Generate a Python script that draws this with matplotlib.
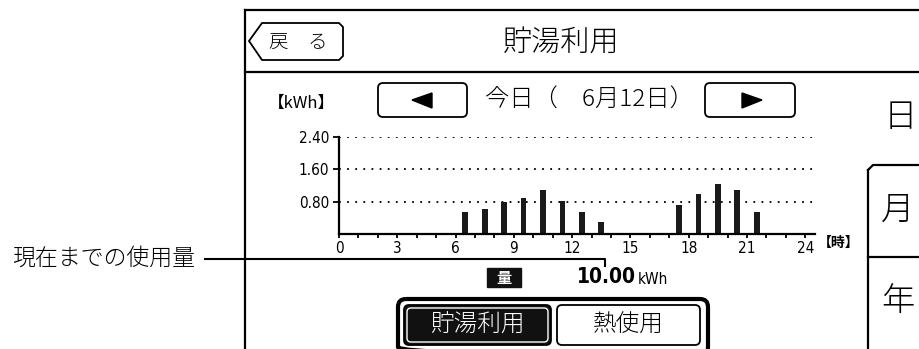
import matplotlib
matplotlib.use('Agg')
import matplotlib.pyplot as plt
from matplotlib.patches import FancyBboxPatch, Polygon, Rectangle

plt.rcParams['font.family'] = ['Noto Sans CJK JP', 'DejaVu Sans']
plt.rcParams['font.weight'] = 'light'

# hourly hot-water usage (kWh), hour = start of the hour
hours = [6, 7, 8, 9, 10, 11, 12, 13, 17, 18, 19, 20, 21]
usage = [0.55, 0.61, 0.78, 0.88, 1.09, 0.82, 0.55, 0.29, 0.72, 0.98, 1.24, 1.09, 0.55]
y_ticks = [0.8, 1.6, 2.4]
y_labels = ['0.80', '1.60', '2.40']
x_ticks = [0, 3, 6, 9, 12, 15, 18, 21, 24]
total = '10.00'

W, H = 920, 349
fig = plt.figure(figsize=(W / 100, H / 100), dpi=100)

# overlay axes in pixel coordinates for the panel decoration
ui = fig.add_axes([0, 0, 1, 1])
ui.set_xlim(0, W)
ui.set_ylim(H, 0)
ui.axis('off')

lw = 1.6
# frame
ui.plot([245, 245], [10, H], color='black', lw=lw)
ui.plot([245, W], [10, 10], color='black', lw=lw)
ui.plot([245, W], [72, 72], color='black', lw=lw)

# back button
ui.add_patch(Polygon([(249, 41), (262, 23), (339, 23), (343, 27), (343, 56), (339, 60), (262, 60)],
                     closed=True, fill=False, ec='black', lw=1.3))
ui.text(298, 42, '戻　る', fontsize=14, ha='center', va='center')

# title
ui.text(561, 42, '貯湯利用', fontsize=21, ha='center', va='center')

# date navigation
ui.add_patch(FancyBboxPatch((378, 83), 89, 34, boxstyle='round,pad=0,rounding_size=5',
                            fill=False, ec='black', lw=1.3))
ui.add_patch(Polygon([(412, 100), (432, 93), (432, 108)], closed=True, color='black'))
ui.add_patch(FancyBboxPatch((705, 83), 90, 34, boxstyle='round,pad=0,rounding_size=5',
                            fill=False, ec='black', lw=1.3))
ui.add_patch(Polygon([(742, 93), (742, 108), (762, 100)], closed=True, color='black'))
ui.text(485, 100, '今日（　6月12日）', fontsize=17.5, ha='left', va='center')
ui.text(301, 103, '【kWh】', fontsize=12, ha='center', va='center', fontweight='normal')

# right side tabs
ui.text(900, 118, '日', fontsize=24, ha='center', va='center')
ui.plot([868, 868], [H, 170], color='black', lw=lw)
ui.plot([868, 873, W], [170, 165, 165], color='black', lw=lw)
ui.plot([868, W], [257, 257], color='black', lw=lw)
ui.text(898, 211, '月', fontsize=24, ha='center', va='center')
ui.text(898, 302, '年', fontsize=24, ha='center', va='center')

# axis unit label
ui.text(818, 243, '【時】', fontsize=10, ha='left', va='center', fontweight='bold')

# leader line and note
ui.text(12, 258, '現在までの使用量', fontsize=16.5, ha='left', va='center')
ui.plot([205, 605, 605], [259, 259, 266], color='black', lw=1.5)

# total
ui.add_patch(Rectangle((487, 268), 34, 19, color='#111111'))
ui.text(504, 277.5, '量', fontsize=11, ha='center', va='center', color='white', fontweight='bold')
ui.text(577, 277, total, fontsize=15, ha='left', va='center', fontweight='bold',
        family='DejaVu Sans', fontstretch='condensed')
ui.text(638, 279, 'kWh', fontsize=11, ha='left', va='center', family='DejaVu Sans',
        fontweight='normal', fontstretch='condensed')

# bottom selector buttons
ui.add_patch(FancyBboxPatch((398, 299), 310, 56, boxstyle='round,pad=0,rounding_size=8',
                            fill=False, ec='black', lw=3))
ui.add_patch(FancyBboxPatch((404, 305), 147, 40, boxstyle='round,pad=0,rounding_size=5',
                            fc='#111111', ec='black', lw=1.3))
ui.add_patch(FancyBboxPatch((407, 308), 141, 34, boxstyle='round,pad=0,rounding_size=4',
                            fill=False, ec='white', lw=1))
ui.text(477, 325, '貯湯利用', fontsize=17, ha='center', va='center', color='white')
ui.add_patch(FancyBboxPatch((557, 305), 143, 40, boxstyle='round,pad=0,rounding_size=5',
                            fc='white', ec='black', lw=1.3))
ui.text(628, 325, '熱使用', fontsize=17, ha='center', va='center')

# chart axes
x0, x1, y0, y1 = 339, 815, 234, 137
ax = fig.add_axes([x0 / W, 1 - y0 / H, (x1 - x0) / W, (y0 - y1) / H])
ax.patch.set_alpha(0)
ax.bar([h + 0.5 for h in hours], usage, width=0.3, color='#1a1a1a')
ax.set_xlim(0, 24.5)
ax.set_ylim(0, 2.4)
for v in y_ticks:
    ax.axhline(v, color='black', lw=1.3, linestyle=(0, (1, 3.5)), zorder=0)
ax.set_yticks(y_ticks)
ax.set_yticklabels(y_labels)
ax.set_xticks(x_ticks)
ax.set_xticks(range(25), minor=True)
ax.tick_params(axis='y', length=4, width=1.3, pad=3, labelsize=11)
ax.tick_params(axis='x', which='both', direction='out', length=3, width=1.3, pad=2, labelsize=11)
for lab in ax.get_xticklabels() + ax.get_yticklabels():
    lab.set_family('DejaVu Sans')
    lab.set_fontstretch('condensed')
    lab.set_fontweight('normal')
ax.spines['top'].set_visible(False)
ax.spines['right'].set_visible(False)
ax.spines['left'].set_linewidth(1.6)
ax.spines['bottom'].set_linewidth(1.6)

plt.savefig('out.png', dpi=100)
